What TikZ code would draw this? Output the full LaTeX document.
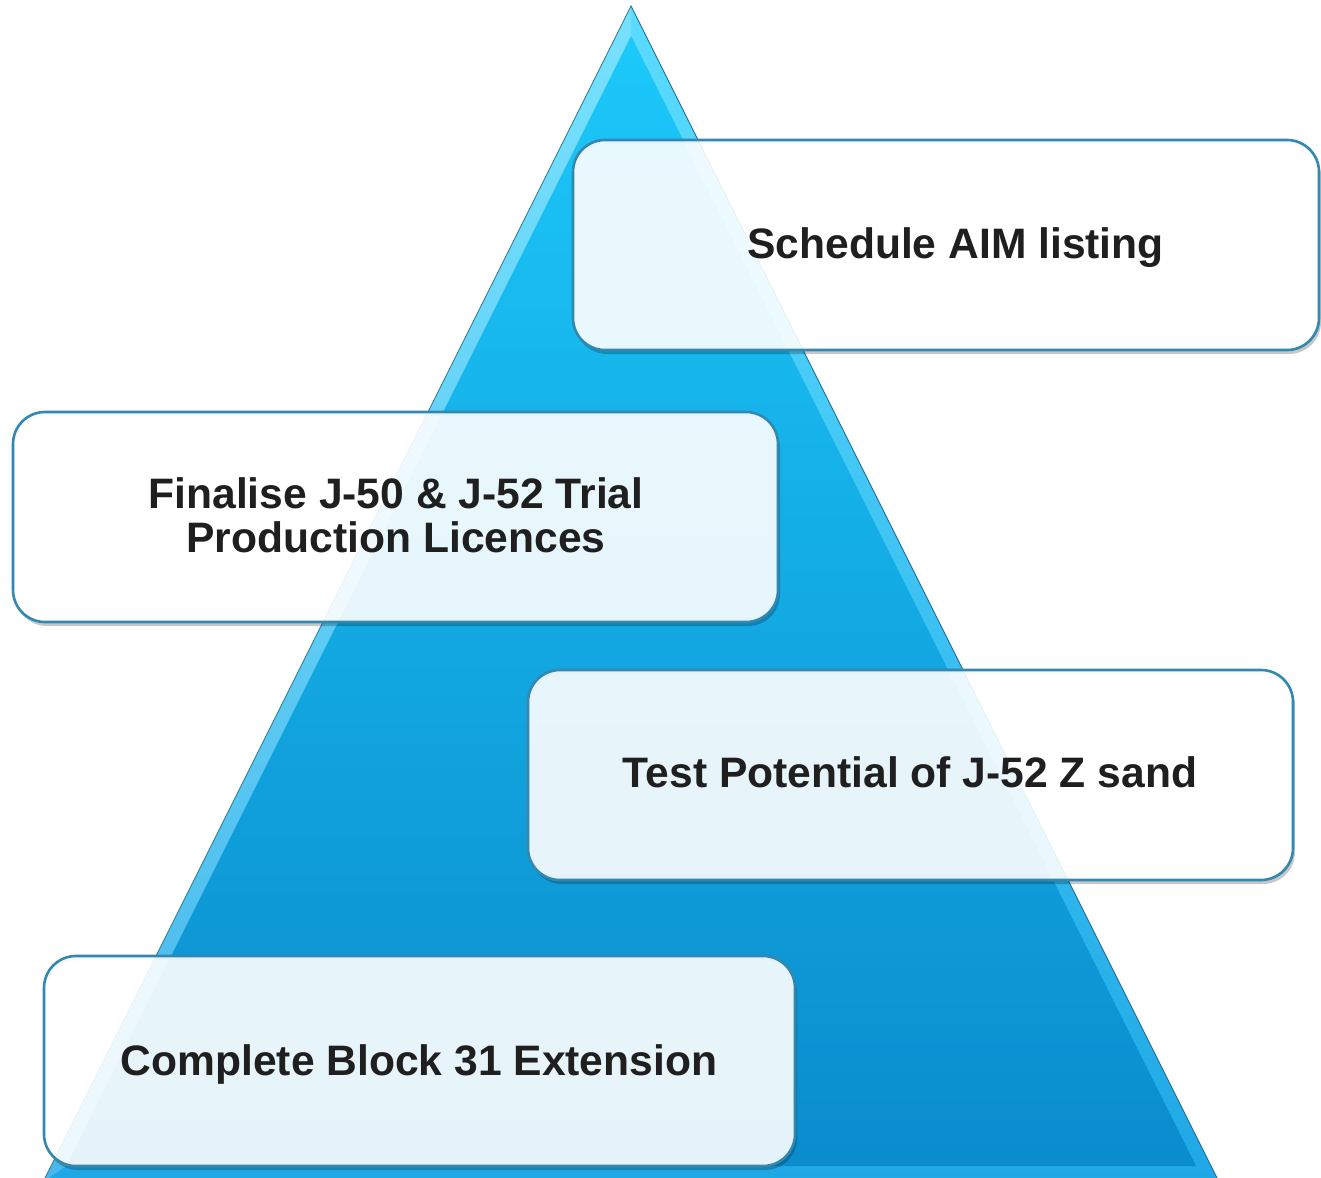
\documentclass[tikz,border=0pt]{standalone}
\usepackage{fontspec}
\setmainfont{Liberation Sans}
\definecolor{txt}{HTML}{1F1F1F}
\definecolor{edgeblue}{HTML}{3388B2}
\definecolor{tritop}{HTML}{1CC8FA}
\definecolor{tribot}{HTML}{0A8CCD}
\definecolor{beveltop}{HTML}{5ADCFF}
\definecolor{bevelbot}{HTML}{1FA8E6}
\definecolor{trioutline}{HTML}{1C6F98}
\tikzset{
  cardshape/.style={draw=edgeblue, line width=2.6pt, rounded corners=32pt,
    fill=white, fill opacity=0.9, inner sep=0pt, minimum height=210pt},
  cardshadow/.style={fill=black, opacity=0.22, even odd rule, rounded corners=32pt},
  cardtext/.style={align=center, text=txt, inner sep=0pt,
    font=\fontsize{42.6}{44}\selectfont\bfseries}
}
\begin{document}
\begin{tikzpicture}[x=1pt,y=-1pt]
\useasboundingbox (0,0) rectangle (1321,1177);
% pyramid: outer bevel
\coordinate (apex) at (631,6);
\coordinate (bl) at (43,1182);
\coordinate (br) at (1219,1182);
\shade[top color=beveltop, bottom color=bevelbot, draw=trioutline, line width=0.9pt]
  (apex) -- (br) -- (bl) -- cycle;
% pyramid: inner face
\coordinate (iapex) at (631,36);
\coordinate (ibl) at (66,1166);
\coordinate (ibr) at (1196,1166);
\shade[top color=tritop, bottom color=tribot]
  (iapex) -- (ibr) -- (ibl) -- cycle;
\fill[white, opacity=0.18] (apex) -- (iapex) -- (ibl) -- (bl) -- cycle;
% card shadows (crescents only)
\fill[cardshadow] (575,144) rectangle (1321,354) (573,140) rectangle (1319,350);
\fill[cardshadow] (15,416) rectangle (780,626) (13,412) rectangle (778,622);
\fill[cardshadow] (530,674) rectangle (1295,884) (528,670) rectangle (1293,880);
\fill[cardshadow] (46,960) rectangle (797,1170) (44,956) rectangle (795,1166);
% cards
\node[cardshape, minimum width=746pt] (b1) at (946,245) {};
\node[cardshape, minimum width=765pt] (b2) at (395.5,517) {};
\node[cardshape, minimum width=765pt] (b3) at (910.5,775) {};
\node[cardshape, minimum width=751pt] (b4) at (419.5,1061) {};
% texts
\node[cardtext] (t1) at (955.5,248) {Schedule AIM listing};
\node[cardtext] (t2) at (396,515.5) {Finalise J-50 \& J-52 Trial\\Production Licences};
\node[cardtext] (t3) at (910,772.5) {Test Potential of J-52 Z sand};
\node[cardtext] (t4) at (419,1064) {Complete Block 31 Extension};
\end{tikzpicture}
\end{document}
